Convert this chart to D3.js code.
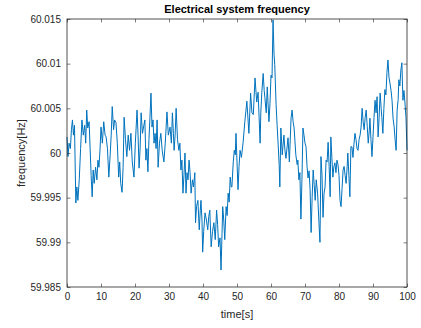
<!DOCTYPE html>
<html>
<head>
<meta charset="utf-8">
<script src="https://cdn.jsdelivr.net/npm/d3@7"></script>
<style>
  body { margin: 0; background: #fff; }
  svg { display: block; font-family: "Liberation Sans", Arial, Helvetica, sans-serif; }
</style>
</head>
<body>
<svg id="chart" width="421" height="328"></svg>
<script>
(function () {
    'use strict';

    // values
    var time = [
        0.0, 0.3, 0.6, 1.0, 1.3, 1.6, 1.9, 2.2, 2.6, 2.9, 3.2, 3.6, 4.0, 4.4, 4.8, 5.2, 5.5, 5.8, 6.1, 6.5,
        6.8, 7.1, 7.4, 7.7, 8.0, 8.4, 8.8, 9.1, 9.4, 9.7, 10.0, 10.4, 10.8, 11.2, 11.5, 11.9, 12.3, 12.7, 13.0, 13.3,
        13.7, 14.0, 14.4, 14.8, 15.2, 15.5, 15.8, 16.2, 16.5, 16.8, 17.2, 17.6, 18.0, 18.4, 18.8, 19.2, 19.7, 20.1, 20.6, 20.9,
        21.2, 21.5, 21.8, 22.2, 22.6, 22.9, 23.2, 23.5, 23.8, 24.1, 24.4, 24.7, 25.0, 25.3, 25.6, 25.9, 26.2, 26.5, 26.8, 27.2,
        27.6, 28.0, 28.5, 28.9, 29.4, 29.8, 30.3, 30.7, 31.0, 31.3, 31.5, 31.8, 32.1, 32.5, 32.9, 33.2, 33.5, 33.8, 34.1, 34.4,
        34.7, 35.0, 35.3, 35.6, 35.9, 36.2, 36.5, 36.9, 37.2, 37.6, 37.8, 38.1, 38.5, 38.9, 39.2, 39.4, 39.7, 39.9, 40.2, 40.6,
        41.0, 41.4, 41.7, 42.0, 42.4, 42.8, 43.2, 43.6, 44.0, 44.3, 44.6, 45.0, 45.3, 45.6, 45.8, 46.1, 46.4, 46.8, 47.1, 47.4,
        47.7, 48.0, 48.3, 48.5, 48.9, 49.2, 49.5, 49.7, 50.0, 50.3, 50.6, 50.9, 51.3, 51.8, 52.3, 52.9, 53.2, 53.5, 54.0, 54.4,
        54.8, 55.3, 55.8, 56.2, 56.5, 56.8, 57.0, 57.3, 57.7, 58.0, 58.2, 58.6, 58.9, 59.4, 59.7, 60.0, 60.3, 60.6, 60.9, 61.1,
        61.5, 61.8, 62.1, 62.4, 62.6, 62.9, 63.3, 63.8, 64.1, 64.4, 65.0, 65.4, 65.9, 66.2, 66.5, 66.8, 67.3, 67.7, 67.9, 68.2,
        68.5, 68.8, 69.1, 69.4, 69.7, 70.0, 70.3, 70.6, 70.9, 71.2, 71.5, 71.8, 72.1, 72.4, 72.7, 73.0, 73.3, 73.7, 74.1, 74.4,
        74.7, 75.0, 75.3, 75.6, 75.9, 76.2, 76.5, 76.8, 77.1, 77.4, 77.6, 77.9, 78.2, 78.5, 78.8, 79.1, 79.4, 79.7, 80.0, 80.3,
        80.6, 80.9, 81.2, 81.5, 81.8, 82.1, 82.4, 82.6, 82.9, 83.2, 83.5, 83.8, 84.1, 84.4, 84.7, 85.0, 85.3, 85.6, 85.9, 86.2,
        86.5, 86.8, 87.1, 87.4, 87.7, 88.0, 88.3, 88.6, 88.9, 89.1, 89.4, 89.7, 90.0, 90.3, 90.6, 90.9, 91.2, 91.5, 91.8, 92.1,
        92.4, 92.6, 92.9, 93.2, 93.5, 93.8, 94.1, 94.4, 94.7, 95.0, 95.3, 95.6, 95.9, 96.2, 96.5, 96.8, 97.1, 97.4, 97.6, 97.9,
        98.2, 98.5, 98.8, 99.1, 99.4, 99.7, 100.0
    ];
    var frequency = [
        60.0018, 59.9996, 60.0011, 60.0005, 60.0026, 60.0037, 60.0020, 60.0031, 59.9944, 59.9962, 59.9947, 59.9970, 60.0005, 60.0037, 60.0020, 60.0031, 60.0011, 60.0048, 60.0028, 60.0035,
        60.0005, 59.9975, 59.9951, 59.9981, 59.9966, 59.9984, 59.9970, 59.9992, 59.9984, 60.0003, 60.0029, 60.0011, 60.0035, 60.0020, 60.0018, 60.0005, 59.9973, 59.9998, 60.0020, 60.0052,
        60.0026, 60.0037, 60.0034, 60.0011, 59.9973, 59.9990, 59.9966, 59.9956, 59.9984, 60.0040, 60.0015, 59.9996, 60.0020, 60.0003, 60.0022, 59.9990, 59.9973, 60.0011, 60.0048, 60.0020,
        59.9983, 60.0005, 60.0045, 60.0022, 60.0031, 60.0037, 59.9992, 60.0005, 59.9979, 60.0015, 60.0040, 60.0067, 60.0029, 60.0037, 60.0011, 60.0022, 60.0005, 60.0037, 59.9984, 60.0011,
        60.0022, 60.0003, 59.9990, 60.0011, 60.0046, 60.0020, 60.0029, 60.0011, 60.0045, 60.0022, 60.0003, 60.0020, 60.0050, 60.0015, 60.0003, 60.0011, 59.9981, 59.9992, 59.9955, 59.9975,
        60.0000, 59.9955, 59.9978, 59.9970, 59.9992, 59.9978, 59.9955, 59.9970, 59.9962, 59.9978, 59.9922, 59.9940, 59.9947, 59.9914, 59.9936, 59.9947, 59.9925, 59.9889, 59.9912, 59.9933,
        59.9925, 59.9914, 59.9929, 59.9936, 59.9895, 59.9912, 59.9922, 59.9903, 59.9936, 59.9920, 59.9895, 59.9905, 59.9869, 59.9910, 59.9940, 59.9925, 59.9903, 59.9940, 59.9930, 59.9955,
        59.9945, 59.9973, 59.9962, 59.9962, 59.9990, 60.0003, 59.9998, 60.0022, 59.9990, 59.9959, 59.9985, 60.0003, 59.9995, 60.0012, 60.0035, 60.0058, 60.0040, 60.0022, 60.0067, 60.0045,
        60.0043, 60.0084, 60.0057, 60.0068, 60.0040, 60.0011, 60.0045, 60.0068, 60.0089, 60.0070, 60.0062, 60.0045, 60.0074, 60.0035, 60.0055, 60.0087, 60.0084, 60.0149, 60.0110, 60.0099,
        60.0054, 60.0031, 60.0010, 59.9987, 59.9962, 60.0028, 59.9998, 60.0020, 60.0003, 59.9994, 60.0017, 59.9990, 60.0039, 60.0048, 60.0035, 60.0028, 59.9998, 59.9987, 59.9992, 59.9970,
        59.9978, 59.9926, 59.9970, 60.0028, 60.0020, 60.0011, 60.0007, 59.9985, 59.9972, 59.9980, 59.9959, 59.9911, 59.9950, 59.9981, 59.9965, 59.9947, 59.9970, 59.9955, 59.9922, 59.9900,
        59.9996, 59.9975, 59.9928, 59.9955, 59.9962, 59.9992, 59.9990, 60.0012, 59.9985, 59.9951, 60.0018, 59.9995, 59.9973, 59.9985, 59.9989, 59.9978, 59.9992, 59.9987, 59.9975, 59.9947,
        59.9940, 59.9960, 59.9981, 59.9985, 59.9975, 59.9966, 59.9985, 60.0000, 59.9975, 59.9951, 60.0007, 60.0007, 59.9995, 60.0010, 60.0022, 60.0015, 60.0005, 60.0003, 60.0015, 60.0020,
        60.0029, 60.0050, 60.0035, 60.0026, 60.0040, 60.0048, 60.0030, 60.0011, 60.0025, 60.0039, 60.0015, 59.9996, 60.0018, 60.0040, 60.0059, 60.0045, 60.0063, 60.0018, 60.0040, 60.0067,
        60.0050, 60.0040, 60.0022, 60.0050, 60.0071, 60.0065, 60.0090, 60.0104, 60.0085, 60.0078, 60.0070, 60.0059, 60.0039, 60.0030, 60.0015, 60.0003, 60.0048, 60.0060, 60.0082, 60.0075,
        60.0093, 60.0101, 60.0059, 60.0070, 60.0056, 60.0040, 60.0003
    ];
    var xTicks = [0, 10, 20, 30, 40, 50, 60, 70, 80, 90, 100];
    var yTicks = [59.985, 59.99, 59.995, 60, 60.005, 60.01, 60.015];
    var yTickLabels = ['59.985', '59.99', '59.995', '60', '60.005', '60.01', '60.015'];

    var svg = d3.select('#chart');
    var margin = { left: 67, right: 14, top: 19, bottom: 41 };
    var width = +svg.attr('width'), height = +svg.attr('height');
    var innerW = width - margin.left - margin.right;
    var innerH = height - margin.top - margin.bottom;
    var axisColor = '#262626';
    var tickLen = 3.4;

    var x = d3.scaleLinear().domain([0, 100]).range([0, innerW]);
    var y = d3.scaleLinear().domain([59.985, 60.015]).range([innerH, 0]);

    var g = svg.append('g')
        .attr('transform', 'translate(' + margin.left + ',' + margin.top + ')');

    var points = time.map(function (t, i) { return [t, frequency[i]]; });

    g.append('path')
        .datum(points)
        .attr('fill', 'none')
        .attr('stroke', '#0072BD')
        .attr('stroke-width', 1)
        .attr('stroke-linejoin', 'round')
        .attr('d', d3.line()
            .x(function (d) { return x(d[0]); })
            .y(function (d) { return y(d[1]); }));

    var styleAxis = function (sel) {
        sel.select('.domain').remove();
        sel.selectAll('.tick line').attr('stroke', axisColor).attr('stroke-width', 0.6);
        sel.selectAll('.tick text')
            .attr('fill', axisColor)
            .style('font-size', '10px');
    };

    // bottom and left axes, ticks pointing inward
    g.append('g')
        .attr('transform', 'translate(0,' + innerH + ')')
        .call(d3.axisBottom(x).tickValues(xTicks).tickSizeInner(-tickLen).tickSizeOuter(0).tickPadding(6))
        .call(styleAxis);
    g.append('g')
        .call(d3.axisLeft(y).tickValues(yTicks)
            .tickFormat(function (d, i) { return yTickLabels[i]; })
            .tickSizeInner(-tickLen).tickSizeOuter(0).tickPadding(6))
        .call(styleAxis);
    // top and right ticks without labels
    g.append('g')
        .call(d3.axisTop(x).tickValues(xTicks).tickSizeInner(-tickLen).tickSizeOuter(0).tickFormat(''))
        .call(styleAxis);
    g.append('g')
        .attr('transform', 'translate(' + innerW + ',0)')
        .call(d3.axisRight(y).tickValues(yTicks).tickSizeInner(-tickLen).tickSizeOuter(0).tickFormat(''))
        .call(styleAxis);

    // box
    g.append('rect')
        .attr('x', 0).attr('y', 0)
        .attr('width', innerW).attr('height', innerH)
        .attr('fill', 'none')
        .attr('stroke', axisColor)
        .attr('stroke-width', 0.8);

    svg.append('text')
        .attr('x', margin.left + innerW / 2)
        .attr('y', 13)
        .attr('text-anchor', 'middle')
        .attr('font-weight', 'bold')
        .attr('font-size', 11)
        .attr('fill', '#000')
        .text('Electrical system frequency');

    svg.append('text')
        .attr('x', margin.left + innerW / 2)
        .attr('y', 318)
        .attr('text-anchor', 'middle')
        .attr('font-size', 11)
        .attr('fill', axisColor)
        .text('time[s]');

    svg.append('text')
        .attr('transform', 'translate(25,' + (margin.top + innerH / 2) + ') rotate(-90)')
        .attr('text-anchor', 'middle')
        .attr('font-size', 11)
        .attr('fill', axisColor)
        .text('frequency[Hz]');
}());
</script>
</body>
</html>
